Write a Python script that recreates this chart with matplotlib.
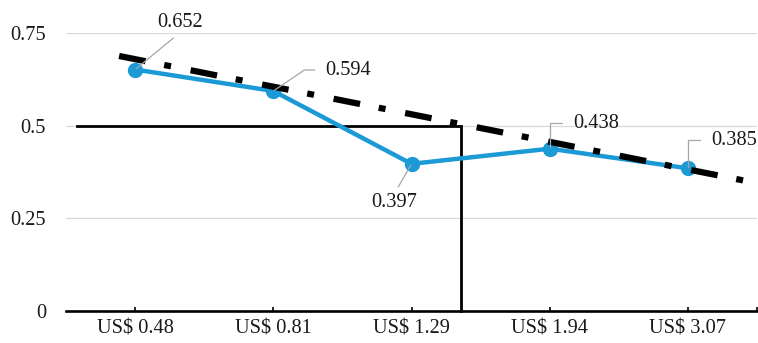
import numpy as np
import matplotlib.pyplot as plt

# price points and observed shares
prices = ['US$ 0.48', 'US$ 0.81', 'US$ 1.29', 'US$ 1.94', 'US$ 3.07']
values = [0.652, 0.594, 0.397, 0.438, 0.385]

# linear trend: value at first and last price point, and the span it covers
trend_ends = [0.680, 0.382]
trend_range = [-0.116, 4.5]

# 0.5 threshold marker
threshold = 0.5
threshold_from = -0.42
threshold_at = 2.358

yticks = [0, 0.25, 0.5, 0.75]
ytick_labels = ['0', '0.25', '0.5', '0.75']

BLUE = '#1b9ad6'
LEADER = '#a6a6a6'
TEXT = '#1a1a1a'

plt.rcParams['font.family'] = ['Liberation Serif', 'DejaVu Serif']
plt.rcParams['lines.scale_dashes'] = False

fig = plt.figure(figsize=(7.58, 3.43), dpi=100)
ax = fig.add_axes([0.0871, 0.0942, 0.9116, 0.8088])

x = np.arange(len(values))

# threshold lines
ax.plot([threshold_from, threshold_at, threshold_at], [threshold, threshold, 0],
        color='black', lw=2, solid_capstyle='projecting', solid_joinstyle='miter',
        zorder=2, clip_on=False)

ax.plot(x, values, color=BLUE, lw=3.2, marker='o', ms=10, zorder=3)

slope = (trend_ends[1] - trend_ends[0]) / (len(values) - 1)
tx = np.array(trend_range)
ty = trend_ends[0] + slope * tx
ax.plot(tx, ty, color='black', lw=4.5, dashes=(19.4, 13.7, 5, 14.4),
        dash_capstyle='butt', zorder=4, clip_on=False)

# data labels: (offset in points, ha, va, relpos, connection, shrinkA)
label_layout = [
    ((32.4, 33.5), 'center', 'center', (0.5, 0), 'arc3', 3),
    ((37.4, 15.1), 'left', 'center', (0, 0.5), 'angle,angleA=0,angleB=34,rad=0', 5.5),
    ((-12.2, -28.1), 'center', 'center', (0.5, 1), 'arc3', 3),
    ((16.6, 18.0), 'left', 'center', (0, 0.55), 'angle,angleA=0,angleB=90,rad=0', 6),
    ((16.6, 20.2), 'left', 'center', (0, 0.5), 'angle,angleA=0,angleB=90,rad=0', 6),
]
for xi, v, (off, ha, va, rel, conn, sa) in zip(x, values, label_layout):
    ax.annotate(f'{v:.3f}', xy=(xi, v), xytext=off, textcoords='offset points',
                ha=ha, va=va, fontsize=14.7, color=TEXT, zorder=5,
                annotation_clip=False,
                arrowprops=dict(arrowstyle='-', color=LEADER, lw=0.9,
                                shrinkA=sa, shrinkB=1, relpos=rel,
                                connectionstyle=conn))

ax.set_xlim(-0.5, 4.5)
ax.set_ylim(0, 0.75)

ax.set_yticks(yticks)
ax.set_yticklabels(ytick_labels)
ax.set_xticks(x)
ax.set_xticklabels(prices)
ax.set_xticks([4.5], minor=True)

ax.tick_params(axis='y', length=0, pad=14.4, labelsize=14.7, labelcolor=TEXT)
ax.tick_params(axis='x', which='both', direction='in', length=3, width=1.2,
               pad=6.5, labelsize=14.7, labelcolor=TEXT)

ax.grid(axis='y', color='#d9d9d9', lw=0.9)
ax.set_axisbelow(True)
for side in ['left', 'right', 'top']:
    ax.spines[side].set_visible(False)
ax.spines['bottom'].set_linewidth(1.9)
ax.spines['bottom'].set_zorder(2.5)

fig.savefig('out.png', dpi=100)
